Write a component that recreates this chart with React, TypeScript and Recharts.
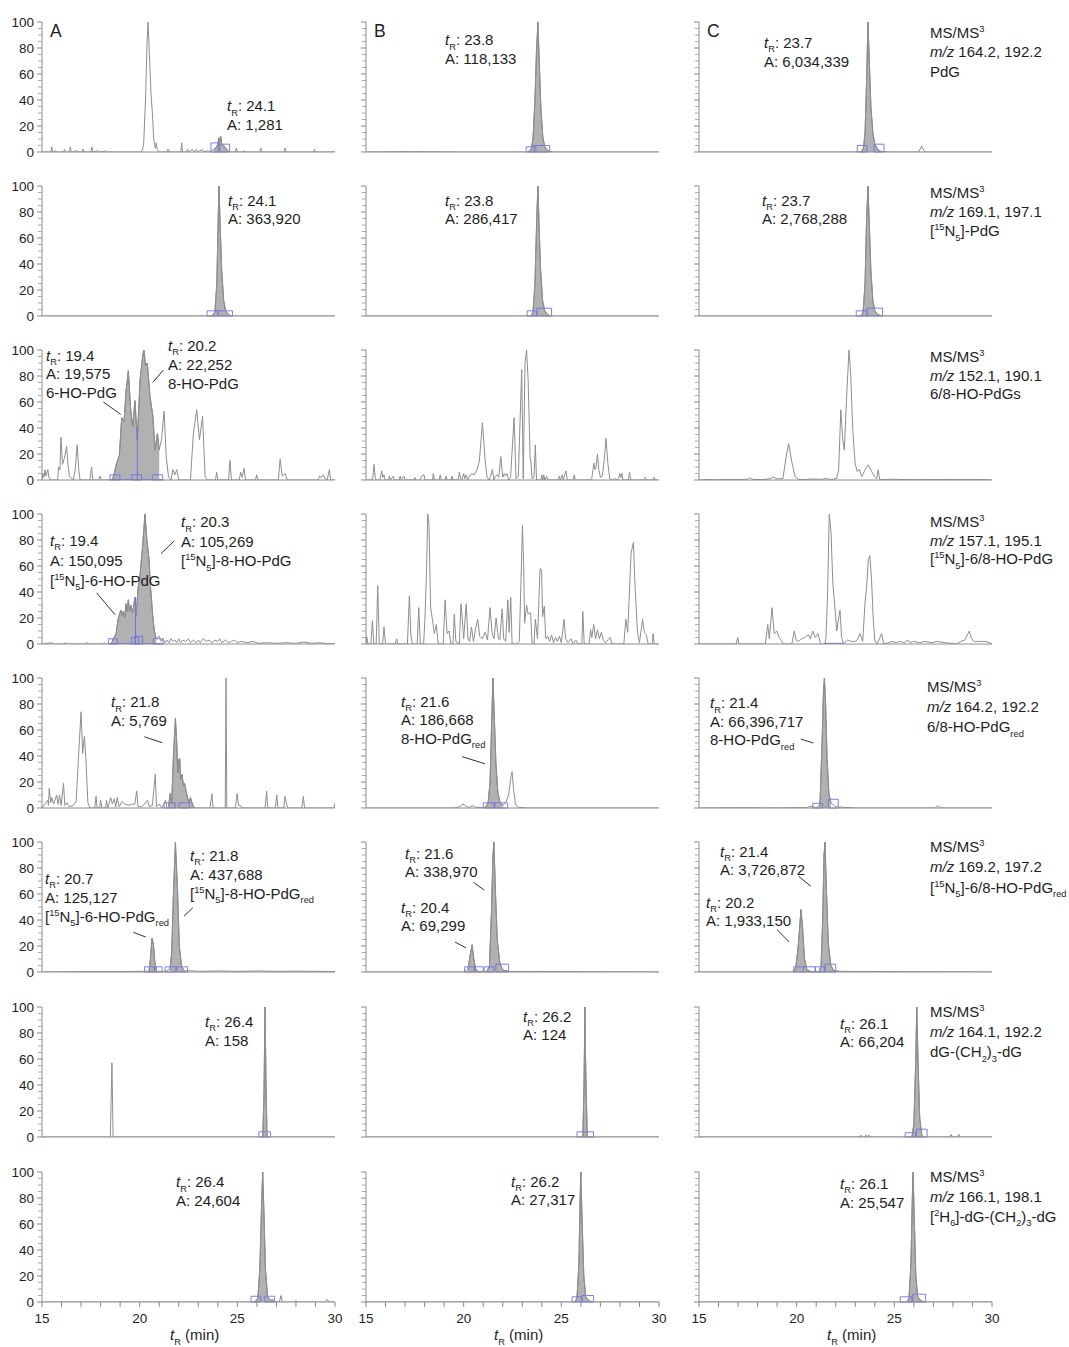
import React from "react";
import { ComposedChart, Line, Area, XAxis, YAxis, ReferenceArea, ReferenceLine } from "recharts";

type Pt = [number, number];
type Range = [number, number];
type Box = [number, number, number];
type Seg = [string, "n" | "i" | "sub" | "sup"];

// axes
const xTicks = [15, 16, 17, 18, 19, 20, 21, 22, 23, 24, 25, 26, 27, 28, 29, 30];
const xLabels = [15, 20, 25, 30];
const yTicks = [0, 5, 10, 15, 20, 25, 30, 35, 40, 45, 50, 55, 60, 65, 70, 75, 80, 85, 90, 95, 100];
const colLetters = ["A", "B", "C"];

// traces: [retention time (min), relative abundance (%)]
const a1: Pt[] = [[15, 0], [15.45, 0], [15.5, 4], [15.55, 0], [15.7, 1], [15.75, 0], [16.1, 0], [16.15, 2], [16.2, 0], [16.4, 0], [16.45, 4], [16.5, 0], [16.8, 1], [16.85, 0], [17.05, 0], [17.1, 2], [17.15, 0], [17.5, 0], [17.55, 4], [17.6, 0], [17.85, 1], [18.0, 0], [18.25, 1], [18.3, 0], [20.1, 0], [20.2, 5], [20.3, 40], [20.38, 85], [20.43, 100], [20.5, 75], [20.58, 45], [20.65, 30], [20.72, 10], [20.8, 3], [20.85, 7], [20.9, 2], [21.0, 0], [21.4, 0], [21.45, 2], [21.5, 0], [22.1, 0], [22.15, 7], [22.2, 0], [22.4, 0], [22.45, 2], [22.5, 0], [22.7, 2], [22.8, 0], [22.9, 2], [23.0, 0], [23.2, 2], [23.3, 0], [23.5, 1], [23.6, 0], [23.8, 2], [23.9, 3], [24.0, 6], [24.05, 11], [24.1, 8], [24.15, 12], [24.2, 6], [24.3, 5], [24.4, 3], [24.5, 1], [24.6, 0], [24.9, 0], [24.95, 3], [25.0, 0], [25.3, 0], [25.35, 1], [25.4, 0], [26.15, 0], [26.2, 3], [26.25, 0], [27.4, 0], [27.45, 3], [27.5, 0], [28.9, 0], [28.95, 2], [29.0, 0], [30, 0]];
const b1: Pt[] = [[15, 0], [17, 0.3], [20, 0], [23.3, 0], [23.45, 2], [23.55, 10], [23.65, 40], [23.72, 75], [23.8, 100], [23.87, 70], [23.95, 35], [24.05, 12], [24.15, 4], [24.3, 1], [24.5, 0], [30, 0]];
const c1: Pt[] = [[15, 0], [23.3, 0], [23.42, 3], [23.5, 15], [23.58, 55], [23.65, 100], [23.72, 70], [23.8, 35], [23.9, 15], [24.0, 6], [24.15, 2], [24.3, 0.5], [24.6, 0], [26.25, 0], [26.4, 4.5], [26.55, 0], [30, 0]];

const a2: Pt[] = [[15, 0], [23.7, 0], [23.85, 3], [23.95, 25], [24.02, 75], [24.06, 100], [24.12, 70], [24.2, 35], [24.3, 12], [24.4, 4], [24.55, 1], [24.7, 0], [30, 0]];
const b2: Pt[] = [[15, 0], [23.45, 0], [23.55, 3], [23.65, 25], [23.74, 75], [23.8, 100], [23.86, 70], [23.94, 35], [24.04, 12], [24.15, 4], [24.3, 1], [24.5, 0], [30, 0]];
const c2: Pt[] = [[15, 0], [23.3, 0], [23.4, 3], [23.5, 25], [23.58, 75], [23.65, 100], [23.72, 70], [23.8, 35], [23.9, 12], [24.0, 4], [24.15, 1], [24.4, 0], [30, 0]];

const a3: Pt[] = [[15, 0], [15.05, 5], [15.1, 2], [15.15, 8], [15.2, 3], [15.3, 8], [15.35, 2], [15.45, 0], [15.8, 0], [15.85, 10], [15.92, 8], [15.97, 33], [16.05, 12], [16.15, 17], [16.26, 26], [16.33, 12], [16.4, 3], [16.6, 0], [16.7, 8], [16.8, 27], [16.88, 8], [16.95, 0], [17.45, 0], [17.54, 10], [17.6, 0], [17.9, 0], [17.97, 3], [18.05, 0], [18.6, 0], [18.7, 5], [18.8, 12], [18.96, 19], [19.08, 48], [19.2, 45], [19.3, 68], [19.42, 84], [19.54, 54], [19.64, 41], [19.76, 61], [19.88, 31], [20.02, 77], [20.16, 96], [20.22, 100], [20.3, 88], [20.39, 90], [20.53, 64], [20.67, 50], [20.79, 23], [20.91, 36], [21.0, 23], [21.12, 31], [21.25, 53], [21.36, 18], [21.47, 3], [21.6, 0], [21.7, 8], [21.8, 4], [21.9, 8], [22.0, 0], [22.6, 0], [22.75, 36], [22.92, 54], [23.06, 31], [23.22, 49], [23.35, 3], [23.45, 0], [23.88, 0], [23.94, 6], [24.0, 0], [24.55, 0], [24.62, 15], [24.7, 0], [25.1, 0], [25.17, 6], [25.25, 2], [25.34, 9], [25.42, 0], [25.93, 0], [25.99, 4], [26.05, 0], [27.1, 0], [27.19, 16], [27.3, 3], [27.45, 5], [27.55, 0], [29.15, 0], [29.2, 3], [29.3, 2], [29.4, 4], [29.5, 1], [29.6, 0], [29.71, 8], [29.78, 0], [30, 0]];
const b3: Pt[] = [[15, 0], [15.3, 0], [15.36, 3], [15.41, 12], [15.47, 2], [15.52, 0], [15.72, 0], [15.8, 7], [15.86, 2], [15.92, 4], [15.98, 0], [16.15, 0], [16.2, 3], [16.25, 0], [16.4, 3], [16.45, 0], [16.7, 0], [16.75, 3], [16.8, 0], [16.95, 3], [17.0, 0], [17.45, 0], [17.5, 2], [17.55, 0], [17.75, 0], [17.85, 3], [17.97, 4], [18.02, 0], [18.4, 0], [18.45, 5], [18.5, 0], [18.75, 0], [18.8, 4], [18.85, 0], [19.05, 0], [19.1, 3], [19.15, 0], [19.35, 0], [19.4, 3], [19.45, 0], [19.72, 0], [19.78, 6], [19.84, 1], [19.9, 0], [20.0, 5], [20.05, 1], [20.12, 4], [20.2, 0], [20.3, 3], [20.4, 5], [20.55, 4], [20.68, 8], [20.8, 14], [20.96, 44], [21.1, 15], [21.2, 2], [21.3, 0], [21.4, 4], [21.47, 8], [21.55, 0], [21.63, 3], [21.73, 4], [21.8, 2], [21.9, 18], [22.0, 2], [22.08, 5], [22.14, 3], [22.22, 5], [22.3, 0], [22.4, 2], [22.58, 48], [22.68, 1], [22.8, 3], [22.97, 85], [23.05, 1], [23.14, 90], [23.22, 100], [23.3, 77], [23.4, 18], [23.45, 13], [23.5, 1], [23.6, 2], [23.67, 27], [23.73, 0], [23.95, 0], [24.0, 4], [24.05, 0], [24.1, 4], [24.15, 0], [24.25, 3], [24.3, 0], [24.85, 0], [24.9, 3], [24.95, 0], [25.05, 4], [25.1, 0], [25.17, 4], [25.24, 7], [25.3, 0], [25.6, 0], [25.66, 4], [25.72, 0], [26.45, 0], [26.56, 1], [26.62, 8], [26.67, 13], [26.72, 8], [26.78, 10], [26.85, 20], [26.92, 8], [27.0, 2], [27.1, 3], [27.2, 16], [27.29, 32], [27.38, 13], [27.48, 1], [27.6, 0], [27.75, 1], [27.85, 0], [27.93, 1], [27.99, 5], [28.05, 2], [28.1, 5], [28.15, 0], [28.43, 0], [28.49, 6], [28.55, 0], [29.25, 0], [29.3, 2], [29.35, 0], [29.7, 0], [29.75, 2], [29.8, 0], [30, 0]];
const c3: Pt[] = [[15, 0], [15.5, 0.4], [16, 0.2], [16.5, 0.5], [17, 0.3], [17.5, 0.6], [17.6, 1.8], [17.7, 0.6], [18.2, 0.3], [18.6, 0.8], [18.8, 2.3], [19.0, 0.8], [19.3, 1.2], [19.45, 17], [19.59, 28], [19.75, 14], [19.92, 2.6], [20.1, 0.5], [20.5, 0.4], [20.8, 0.8], [21.2, 0.5], [21.5, 1], [21.8, 0.4], [22.05, 1.3], [22.15, 7.8], [22.26, 54], [22.36, 31], [22.44, 23], [22.56, 65], [22.68, 100], [22.76, 83], [22.87, 39], [22.99, 13], [23.1, 6.5], [23.2, 8.3], [23.33, 2.6], [23.5, 7.8], [23.67, 11.6], [23.84, 6.5], [23.98, 2.6], [24.1, 1], [24.17, 7.8], [24.25, 0.5], [24.6, 0.4], [25, 0.6], [25.6, 0.3], [26.2, 0.5], [27, 0.3], [27.8, 0.5], [28.6, 0.3], [29.4, 0.4], [30, 0]];

const a4: Pt[] = [[15, 0], [15.5, 1], [15.6, 0], [16.1, 0], [16.2, 1], [16.3, 0], [17.2, 0], [17.3, 1], [17.4, 0], [18.1, 0], [18.2, 1], [18.3, 0], [18.5, 0], [18.6, 2], [18.65, 4], [18.79, 8], [18.91, 20], [19.03, 26], [19.1, 22], [19.16, 25], [19.23, 20], [19.3, 31], [19.36, 25], [19.42, 34], [19.48, 25], [19.55, 30], [19.64, 24], [19.76, 36], [19.82, 22], [19.92, 43], [20.02, 53], [20.16, 77], [20.27, 100], [20.36, 82], [20.48, 65], [20.56, 43], [20.67, 22], [20.75, 10], [20.85, 4], [21.0, 6], [21.1, 2], [21.2, 4], [21.3, 1], [21.4, 3], [21.5, 1], [21.6, 4], [21.7, 2], [21.8, 3], [21.9, 1], [22.0, 4], [22.1, 1], [22.2, 3], [22.35, 2], [22.5, 4], [22.6, 1], [22.75, 3], [22.9, 1], [23.0, 3], [23.1, 1], [23.25, 4], [23.4, 2], [23.55, 3], [23.7, 1], [23.85, 3], [24.0, 2], [24.1, 4], [24.2, 1], [24.4, 3], [24.55, 1], [24.7, 2], [24.85, 3], [25.0, 1], [25.2, 2], [25.5, 1], [25.8, 2], [26.1, 0.5], [26.5, 1], [27.0, 0.5], [27.5, 1], [28.0, 0.5], [28.4, 1.5], [28.8, 0.5], [29.2, 1], [29.6, 0.3], [30, 0]];
const b4: Pt[] = [[15, 0], [15.04, 5.6], [15.1, 0], [15.25, 0], [15.33, 18], [15.4, 0], [15.52, 0], [15.6, 45], [15.68, 0], [15.85, 0], [15.92, 13], [16.0, 0], [16.5, 0], [16.57, 4], [16.63, 0], [17.12, 0], [17.22, 37], [17.3, 6], [17.38, 0], [17.62, 0], [17.7, 28], [17.78, 0], [17.95, 0], [18.02, 20], [18.1, 57], [18.16, 100], [18.22, 93], [18.31, 28], [18.4, 19], [18.5, 8], [18.6, 15], [18.7, 0], [18.95, 0], [19.05, 34], [19.15, 8], [19.25, 10], [19.35, 0], [19.45, 0], [19.52, 23], [19.6, 2], [19.78, 0], [19.86, 31], [19.92, 21], [20.0, 4], [20.13, 31], [20.22, 4], [20.3, 2], [20.4, 13], [20.5, 2], [20.6, 11], [20.72, 19], [20.82, 6], [20.95, 4], [21.1, 9], [21.22, 3], [21.35, 28], [21.45, 9], [21.55, 4], [21.66, 20], [21.78, 4], [21.85, 3], [21.97, 27], [22.05, 4], [22.15, 2], [22.26, 34], [22.33, 9], [22.41, 36], [22.48, 0], [22.7, 0], [22.85, 2], [22.94, 52], [23.01, 91], [23.07, 62], [23.12, 16], [23.22, 30], [23.3, 23], [23.43, 24], [23.5, 1], [23.6, 0], [23.67, 19], [23.78, 4], [23.91, 58], [23.99, 57], [24.04, 21], [24.13, 29], [24.2, 4], [24.3, 6], [24.4, 2], [24.5, 7], [24.6, 1], [24.7, 5], [24.8, 2], [24.9, 6], [25.0, 1], [25.14, 19], [25.22, 4], [25.35, 1], [25.5, 4], [25.6, 0], [25.75, 3], [25.85, 0], [26.05, 0], [26.1, 25], [26.17, 0], [26.42, 0], [26.5, 11], [26.56, 5], [26.66, 15], [26.75, 4], [26.85, 11], [26.95, 4], [27.05, 9], [27.15, 3], [27.25, 1], [27.5, 5], [27.6, 0], [28.2, 0], [28.3, 19], [28.4, 9], [28.57, 70], [28.69, 78], [28.78, 42], [28.9, 9], [29.0, 1], [29.16, 19], [29.25, 9], [29.35, 7], [29.45, 0], [29.65, 0], [29.7, 8], [29.76, 0], [30, 0]];
const c4: Pt[] = [[15, 0], [16.9, 0], [16.98, 5], [17.05, 0], [18.4, 0], [18.52, 15], [18.6, 4], [18.74, 28], [18.85, 8], [18.98, 10], [19.1, 5], [19.2, 3], [19.32, 0], [19.75, 0], [19.88, 10], [19.97, 3], [20.1, 2], [20.25, 4], [20.4, 5], [20.6, 7], [20.7, 4], [20.82, 10], [20.95, 5], [21.1, 8], [21.22, 0], [21.45, 0], [21.5, 5], [21.58, 37], [21.67, 100], [21.76, 86], [21.85, 47], [21.97, 26], [22.05, 10], [22.12, 17], [22.22, 26], [22.3, 5], [22.4, 0], [22.6, 3], [22.8, 2], [23.0, 2], [23.1, 3], [23.24, 8], [23.38, 2], [23.5, 32], [23.58, 44], [23.67, 65], [23.75, 68], [23.84, 47], [23.92, 19], [24.0, 3], [24.12, 0], [24.35, 8], [24.45, 0], [24.7, 1], [24.9, 2], [25.1, 1], [25.3, 2], [25.5, 1], [25.7, 3], [25.8, 1], [26.0, 2], [26.3, 1], [26.55, 2], [26.9, 1], [27.2, 2], [27.6, 1], [28.2, 0], [28.4, 2], [28.6, 3], [28.84, 10], [28.95, 4], [29.1, 2], [29.3, 2], [29.55, 2], [29.7, 2], [30, 0]];

const a5: Pt[] = [[15, 0], [15.3, 6], [15.33, 2], [15.37, 15], [15.45, 4], [15.5, 8], [15.6, 3], [15.75, 10], [15.82, 3], [15.9, 10], [15.98, 2], [16.1, 19], [16.17, 2], [16.28, 4], [16.4, 1], [16.6, 2], [16.75, 5], [16.86, 37], [17.0, 74], [17.08, 42], [17.17, 55], [17.25, 37], [17.35, 4], [17.45, 0], [17.7, 0], [17.77, 9], [17.82, 0], [17.95, 0], [18.0, 6], [18.07, 0], [18.25, 0], [18.3, 6], [18.37, 0], [18.52, 8], [18.6, 3], [18.7, 7], [18.78, 1], [18.85, 8], [18.95, 1], [19.1, 5], [19.25, 3], [19.45, 2], [19.6, 3], [19.75, 3], [19.85, 13], [19.92, 1], [20.1, 1], [20.25, 3], [20.4, 6], [20.5, 1], [20.65, 2], [20.8, 26], [20.86, 1], [21.0, 3], [21.15, 0], [21.33, 6], [21.4, 0], [21.48, 1], [21.56, 11], [21.64, 4], [21.72, 37], [21.83, 69], [21.9, 50], [21.95, 27], [22.0, 37], [22.05, 38], [22.1, 22], [22.17, 26], [22.24, 17], [22.3, 19], [22.4, 11], [22.52, 4], [22.6, 8], [22.7, 3], [22.8, 0], [23.6, 0], [23.7, 11], [23.76, 0], [24.38, 0], [24.42, 100], [24.46, 0], [24.9, 0], [24.99, 11], [25.06, 2], [25.15, 2], [25.25, 0], [26.42, 0], [26.5, 13], [26.56, 0], [26.95, 0], [27.02, 10], [27.08, 0], [27.38, 0], [27.44, 9], [27.52, 3], [27.6, 0], [28.3, 0], [28.38, 9], [28.44, 0], [29.95, 0], [30, 4]];
const b5: Pt[] = [[15, 0], [19.5, 0], [19.8, 1], [19.97, 3], [20.15, 1], [20.3, 0.5], [20.45, 2], [20.6, 0.5], [21.1, 0.5], [21.25, 4], [21.35, 20], [21.43, 65], [21.5, 100], [21.57, 70], [21.65, 35], [21.75, 12], [21.85, 5], [22.0, 2], [22.15, 4], [22.3, 10], [22.42, 24], [22.48, 28], [22.55, 15], [22.65, 3], [22.8, 0.5], [23.2, 0], [30, 0]];
const c5: Pt[] = [[15, 0], [17.5, 0.3], [18.5, 0], [20.5, 0.3], [20.8, 1.5], [20.95, 0.3], [21.15, 1], [21.2, 6], [21.3, 50], [21.37, 89], [21.42, 100], [21.48, 81], [21.56, 37], [21.65, 11], [21.75, 4], [22.0, 1], [22.4, 0.5], [23, 0], [27.1, 0], [27.22, 2], [27.35, 0], [30, 0]];

const a6: Pt[] = [[15, 0], [17, 0.3], [19, 0.3], [20.0, 0.5], [20.48, 0.5], [20.55, 10], [20.63, 26], [20.7, 22], [20.78, 7], [20.88, 0.5], [21.3, 0.5], [21.55, 2], [21.64, 15], [21.72, 56], [21.83, 100], [21.93, 66], [22.03, 20], [22.15, 4], [22.3, 0.8], [22.6, 1], [23, 0.5], [24, 0.8], [25, 0.5], [26, 0.8], [27, 0.5], [28, 0.6], [29, 0.5], [30, 0.3]];
const b6: Pt[] = [[15, 0], [20.0, 0], [20.22, 2], [20.32, 12], [20.43, 21], [20.52, 10], [20.62, 2], [20.75, 0.5], [21.2, 0.5], [21.32, 5], [21.42, 45], [21.5, 90], [21.55, 100], [21.62, 65], [21.72, 25], [21.85, 7], [22.0, 1.5], [22.3, 0.5], [30, 0]];
const c6: Pt[] = [[15, 0], [19.8, 0], [19.95, 3], [20.08, 20], [20.22, 48], [20.3, 35], [20.4, 10], [20.52, 2], [20.7, 0.5], [21.15, 0.5], [21.25, 5], [21.33, 40], [21.4, 90], [21.45, 100], [21.52, 65], [21.62, 22], [21.75, 5], [21.9, 1], [22.2, 0.5], [30, 0]];

const a7: Pt[] = [[15, 0], [18.5, 0], [18.58, 57], [18.64, 0], [26.3, 0], [26.36, 30], [26.42, 100], [26.47, 40], [26.52, 0], [30, 0]];
const b7: Pt[] = [[15, 0], [26.1, 0], [26.16, 40], [26.21, 100], [26.24, 60], [26.28, 30], [26.33, 0], [30, 0]];
const c7: Pt[] = [[15, 0], [23.25, 0], [23.3, 1.5], [23.35, 0], [23.5, 0], [23.55, 1.5], [23.6, 0], [23.7, 1.5], [23.75, 0], [25.9, 0], [26.0, 10], [26.08, 50], [26.15, 100], [26.22, 55], [26.3, 15], [26.4, 2], [26.5, 0], [27.85, 0], [27.9, 2], [27.95, 0], [28.25, 0], [28.3, 2], [28.35, 0], [30, 0]];

const a8: Pt[] = [[15, 0], [25.9, 0], [26.05, 3], [26.15, 25], [26.24, 75], [26.3, 100], [26.36, 70], [26.44, 25], [26.55, 4], [26.7, 1], [26.8, 2], [26.9, 0.5], [27.15, 0], [27.24, 5], [27.3, 0], [27.9, 0], [28.0, 1], [28.1, 0], [29.5, 0], [29.6, 2], [29.7, 0], [30, 0]];
const b8: Pt[] = [[15, 0], [25.7, 0], [25.8, 3], [25.9, 30], [25.96, 80], [26.0, 100], [26.06, 65], [26.15, 20], [26.25, 4], [26.4, 1], [26.6, 0], [30, 0]];
const c8: Pt[] = [[15, 0], [25.65, 0], [25.75, 3], [25.85, 30], [25.92, 80], [25.96, 100], [26.02, 65], [26.1, 20], [26.2, 4], [26.35, 1], [26.55, 0], [30, 0]];

interface PanelSpec {
  col: number;
  row: number;
  trace: Pt[];
  fills?: Range[];
  boxes?: Box[];
  leaders?: [Pt, Pt][];
  blue?: [Pt, Pt][];
}

const panels: PanelSpec[] = [
  { col: 0, row: 0, trace: a1, fills: [[23.8, 24.6]], boxes: [[23.65, 24.1, 7], [24.05, 24.6, 6]] },
  { col: 1, row: 0, trace: b1, fills: [[23.3, 24.5]], boxes: [[23.2, 23.7, 4], [23.6, 24.4, 5]] },
  { col: 2, row: 0, trace: c1, fills: [[23.3, 24.6]], boxes: [[23.1, 23.6, 5], [23.96, 24.47, 6]] },
  { col: 0, row: 1, trace: a2, fills: [[23.7, 24.7]], boxes: [[23.45, 24.0, 4], [24.0, 24.75, 4]] },
  { col: 1, row: 1, trace: b2, fills: [[23.45, 24.5]], boxes: [[23.25, 23.75, 4], [23.75, 24.5, 6]] },
  { col: 2, row: 1, trace: c2, fills: [[23.3, 24.4]], boxes: [[23.05, 23.6, 4], [23.6, 24.4, 6]] },
  {
    col: 0, row: 2, trace: a3, fills: [[18.6, 21.0]],
    boxes: [[18.48, 18.99, 4], [19.59, 20.1, 4], [20.65, 21.18, 4]],
    leaders: [[[18.14, 60], [19.03, 50.4]], [[21.21, 84.5], [20.67, 75]]],
    blue: [[[19.88, 0], [19.88, 41]], [[18.5, 0.3], [21.2, 0.3]]],
  },
  { col: 1, row: 2, trace: b3 },
  { col: 2, row: 2, trace: c3 },
  {
    col: 0, row: 3, trace: a4, fills: [[18.5, 20.85]],
    boxes: [[18.4, 18.85, 4], [19.58, 19.95, 5], [19.75, 20.15, 6], [20.7, 21.2, 4]],
    leaders: [[[17.8, 39.3], [18.74, 22.5]], [[21.77, 79.3], [21.09, 69.5]]],
    blue: [[[19.79, 0], [19.79, 36]], [[18.4, 0.3], [21.2, 0.3]]],
  },
  { col: 1, row: 3, trace: b4 },
  { col: 2, row: 3, trace: c4, blue: [[[21.4, 0.5], [22.4, 0.5]]] },
  {
    col: 0, row: 4, trace: a5, fills: [[21.48, 22.8]],
    boxes: [[21.25, 21.81, 4], [22.02, 22.55, 4]],
    leaders: [[[20.24, 54.8], [21.16, 50.2]]],
  },
  {
    col: 1, row: 4, trace: b5, fills: [[21.1, 22.0]],
    boxes: [[21.0, 21.6, 4], [21.55, 22.25, 4]],
    leaders: [[[19.92, 39.5], [21.09, 34]]],
  },
  {
    col: 2, row: 4, trace: c5, fills: [[21.15, 21.75]],
    boxes: [[20.82, 21.33, 3.6], [21.62, 22.13, 6.7]],
    leaders: [[[20.21, 53], [20.85, 50]]],
  },
  {
    col: 0, row: 5, trace: a6, fills: [[20.48, 20.88], [21.55, 22.3]],
    boxes: [[20.25, 20.75, 4], [20.75, 21.15, 4], [21.3, 21.85, 4], [21.9, 22.45, 4]],
    leaders: [[[19.68, 30.5], [20.31, 26.9]], [[22.72, 49.4], [22.27, 42.9]]],
  },
  {
    col: 1, row: 5, trace: b6, fills: [[20.22, 20.75], [21.2, 22.3]],
    boxes: [[20.05, 20.55, 4], [20.55, 21.0, 4], [21.05, 21.55, 4], [21.65, 22.3, 6]],
    leaders: [[[19.56, 23], [20.12, 18.6]], [[20.5, 69], [21.05, 63]]],
  },
  {
    col: 2, row: 5, trace: c6, fills: [[19.8, 20.7], [21.15, 22.2]],
    boxes: [[19.85, 20.35, 4], [20.35, 20.95, 4], [20.95, 21.45, 4], [21.45, 22.0, 6]],
    leaders: [[[18.99, 32.6], [19.61, 23.3]], [[20.1, 73.6], [20.72, 66]]],
  },
  { col: 0, row: 6, trace: a7, fills: [[26.3, 26.52]], boxes: [[26.1, 26.7, 4]] },
  { col: 1, row: 6, trace: b7, fills: [[26.1, 26.33]], boxes: [[25.8, 26.65, 4]] },
  { col: 2, row: 6, trace: c7, fills: [[25.9, 26.5]], boxes: [[25.55, 26.1, 3.3], [26.13, 26.68, 6]] },
  { col: 0, row: 7, trace: a8, fills: [[25.9, 26.9]], boxes: [[25.7, 26.2, 4.4], [26.4, 26.9, 4.4]] },
  { col: 1, row: 7, trace: b8, fills: [[25.7, 26.6]], boxes: [[25.55, 26.05, 4], [26.05, 26.65, 5]] },
  { col: 2, row: 7, trace: c8, fills: [[25.65, 26.55]], boxes: [[25.3, 25.9, 4], [25.95, 26.6, 6]] },
];

// annotation text
const tR = (v: string): Seg[] => [["t", "i"], ["R", "sub"], [": " + v, "n"]];
const area = (v: string): Seg[] => [["A: " + v, "n"]];
const ms: Seg[] = [["MS/MS", "n"], ["3", "sup"]];
const mz = (v: string): Seg[] => [["m/z", "i"], [" " + v, "n"]];
const plain = (v: string): Seg[] => [[v, "n"]];
const red = (v: string): Seg[] => [[v, "n"], ["red", "sub"]];
const n15 = (v: string, r = false): Seg[] => {
  const s: Seg[] = [["[", "n"], ["15", "sup"], ["N", "n"], ["5", "sub"], ["]" + v, "n"]];
  return r ? [...s, ["red", "sub"]] : s;
};
const dimer: Seg[] = [["dG-(CH", "n"], ["2", "sub"], [")", "n"], ["3", "sub"], ["-dG", "n"]];
const d6dimer: Seg[] = [["[", "n"], ["2", "sup"], ["H", "n"], ["6", "sub"], ["]-dG-(CH", "n"], ["2", "sub"], [")", "n"], ["3", "sub"], ["-dG", "n"]];

interface Note { x: number; y: number; lines: Seg[][]; gap?: number }

const notes: Note[] = [
  { x: 227, y: 111, lines: [tR("24.1"), area("1,281")] },
  { x: 445, y: 45, lines: [tR("23.8"), area("118,133")] },
  { x: 764, y: 47.5, lines: [tR("23.7"), area("6,034,339")], gap: 19 },
  { x: 930, y: 38, lines: [ms, mz("164.2, 192.2"), plain("PdG")], gap: 19.3 },

  { x: 228, y: 205.5, lines: [tR("24.1"), area("363,920")] },
  { x: 445, y: 205.5, lines: [tR("23.8"), area("286,417")] },
  { x: 762, y: 205.5, lines: [tR("23.7"), area("2,768,288")] },
  { x: 930, y: 198, lines: [ms, mz("169.1, 197.1"), n15("-PdG")], gap: 19 },

  { x: 46, y: 360.5, lines: [tR("19.4"), area("19,575"), plain("6-HO-PdG")] },
  { x: 168, y: 350.5, lines: [tR("20.2"), area("22,252"), plain("8-HO-PdG")], gap: 19 },
  { x: 930, y: 362, lines: [ms, mz("152.1, 190.1"), plain("6/8-HO-PdGs")] },

  { x: 50, y: 545.5, lines: [tR("19.4"), area("150,095"), n15("-6-HO-PdG")], gap: 20 },
  { x: 181, y: 527, lines: [tR("20.3"), area("105,269"), n15("-8-HO-PdG")], gap: 19.5 },
  { x: 930, y: 527, lines: [ms, mz("157.1, 195.1"), n15("-6/8-HO-PdG")] },

  { x: 111, y: 707, lines: [tR("21.8"), area("5,769")], gap: 19.4 },
  { x: 401, y: 706.5, lines: [tR("21.6"), area("186,668"), red("8-HO-PdG")] },
  { x: 710, y: 708, lines: [tR("21.4"), area("66,396,717"), red("8-HO-PdG")], gap: 18.7 },
  { x: 927, y: 692, lines: [ms, mz("164.2, 192.2"), red("6/8-HO-PdG")], gap: 20 },

  { x: 45, y: 883.5, lines: [tR("20.7"), area("125,127"), n15("-6-HO-PdG", true)], gap: 19.2 },
  { x: 190, y: 860.5, lines: [tR("21.8"), area("437,688"), n15("-8-HO-PdG", true)], gap: 19.2 },
  { x: 405, y: 858.5, lines: [tR("21.6"), area("338,970")] },
  { x: 401, y: 912.5, lines: [tR("20.4"), area("69,299")] },
  { x: 720, y: 856.5, lines: [tR("21.4"), area("3,726,872")] },
  { x: 706, y: 907.5, lines: [tR("20.2"), area("1,933,150")] },
  { x: 930, y: 851.5, lines: [ms, mz("169.2, 197.2"), n15("-6/8-HO-PdG", true)], gap: 20.5 },

  { x: 205, y: 1026.5, lines: [tR("26.4"), area("158")], gap: 19 },
  { x: 523, y: 1021.5, lines: [tR("26.2"), area("124")] },
  { x: 840, y: 1028.5, lines: [tR("26.1"), area("66,204")] },
  { x: 930, y: 1017, lines: [ms, mz("164.1, 192.2"), dimer], gap: 20 },

  { x: 176, y: 1187, lines: [tR("26.4"), area("24,604")] },
  { x: 511, y: 1186.5, lines: [tR("26.2"), area("27,317")] },
  { x: 840, y: 1188.5, lines: [tR("26.1"), area("25,547")], gap: 19 },
  { x: 930, y: 1181.5, lines: [ms, mz("166.1, 198.1"), d6dimer], gap: 20 },
];

// layout
const COL_X = [42, 366, 699];
const ROW_TOP = [22, 186, 350, 514, 678, 842, 1007, 1172];
const PLOT_W = 293;
const PLOT_H = 130;
const Y_W = 40;
const PAD = 8;
const RIGHT = 14;
const FONT = "'Liberation Sans', Arial, Helvetica, sans-serif";
const INK = "#1e1e1e";
const AXIS = "#8c8c8c";
const BLUE = "#7171ee";

function YTick({ x, y, value, showLabel }: { x: number; y: number; value: number; showLabel: boolean }) {
  const major = value % 20 === 0;
  return (
    <g>
      <line x1={x - (major ? 5 : 4)} x2={x} y1={y} y2={y} stroke={major ? "#888" : "#aaa"} strokeWidth={1} />
      {showLabel && major && (
        <text x={x - 8} y={y} dy={4.7} textAnchor="end" fontSize={13.5} fontFamily={FONT} fill={INK}>
          {value}
        </text>
      )}
    </g>
  );
}

function XTick({ x, y, value }: { x: number; y: number; value: number }) {
  return (
    <g>
      <line x1={x} x2={x} y1={y} y2={y + 5} stroke="#888" strokeWidth={1} />
      {xLabels.includes(value) && (
        <text x={x} y={y + 21} textAnchor="middle" fontSize={13.5} fontFamily={FONT} fill={INK}>
          {value}
        </text>
      )}
    </g>
  );
}

function Panel({ spec }: { spec: PanelSpec }) {
  const last = spec.row === ROW_TOP.length - 1;
  const axisH = last ? 30 : 12;
  const line = spec.trace.map(([t, v]) => ({ t, v }));
  return (
    <div style={{ position: "absolute", left: COL_X[spec.col] - Y_W, top: ROW_TOP[spec.row] - PAD }}>
      <ComposedChart
        width={Y_W + PLOT_W + RIGHT}
        height={PAD + PLOT_H + axisH}
        margin={{ top: PAD, right: RIGHT, bottom: 0, left: 0 }}
      >
        <XAxis
          type="number"
          dataKey="t"
          domain={[15, 30]}
          ticks={xTicks}
          interval={0}
          allowDataOverflow
          height={axisH}
          tickSize={0}
          tickMargin={0}
          tickLine={false}
          stroke={AXIS}
          tick={last ? (p: any) => <XTick x={p.x} y={p.y} value={p.payload.value} /> : false}
        />
        <YAxis
          type="number"
          domain={[0, 100]}
          ticks={yTicks}
          interval={0}
          allowDataOverflow
          width={Y_W}
          tickSize={0}
          tickMargin={0}
          tickLine={false}
          stroke={AXIS}
          tick={(p: any) => <YTick x={p.x} y={p.y} value={p.payload.value} showLabel={spec.col === 0} />}
        />
        <Line
          data={line}
          dataKey="v"
          type="linear"
          dot={false}
          activeDot={false}
          stroke="#8e8e8e"
          strokeWidth={1}
          isAnimationActive={false}
        />
        {(spec.fills ?? []).map(([a, b], i) => (
          <Area
            key={"f" + i}
            data={line.filter((d) => d.t >= a && d.t <= b)}
            dataKey="v"
            type="linear"
            fill="#b1b1b1"
            fillOpacity={1}
            stroke="#6e6e6e"
            strokeWidth={0.8}
            dot={false}
            activeDot={false}
            isAnimationActive={false}
          />
        ))}
        {(spec.blue ?? []).map(([p, q], i) => (
          <ReferenceLine
            key={"bl" + i}
            segment={[{ x: p[0], y: p[1] }, { x: q[0], y: q[1] }]}
            stroke={BLUE}
            strokeWidth={1}
          />
        ))}
        {(spec.boxes ?? []).map(([a, b, h], i) => (
          <ReferenceArea
            key={"b" + i}
            x1={a}
            x2={b}
            y1={0}
            y2={h}
            fill="none"
            fillOpacity={0}
            stroke={BLUE}
            strokeWidth={1}
            strokeOpacity={0.9}
          />
        ))}
        {(spec.leaders ?? []).map(([p, q], i) => (
          <ReferenceLine
            key={"l" + i}
            segment={[{ x: p[0], y: p[1] }, { x: q[0], y: q[1] }]}
            stroke="#333"
            strokeWidth={1}
          />
        ))}
      </ComposedChart>
    </div>
  );
}

function Rich({ x, y, segs, size = 15 }: { x: number; y: number; segs: Seg[]; size?: number }) {
  let shift = 0;
  const parts = segs.map(([s, k], i) => {
    const small = k === "sub" || k === "sup";
    const target = k === "sub" ? size * 0.3 : k === "sup" ? -size * 0.38 : 0;
    const dy = target - shift;
    shift = target;
    return (
      <tspan key={i} dy={dy} fontSize={small ? size * 0.62 : size} fontStyle={k === "i" ? "italic" : "normal"}>
        {s}
      </tspan>
    );
  });
  return (
    <text x={x} y={y} fontSize={size} fontFamily={FONT} fill={INK}>
      {parts}
    </text>
  );
}

export default function App() {
  return (
    <div style={{ position: "absolute", left: 0, top: 0, width: 1069, height: 1347, background: "#fff" }}>
      {panels.map((p, i) => (
        <Panel key={i} spec={p} />
      ))}
      <svg width={1069} height={1347} style={{ position: "absolute", left: 0, top: 0, pointerEvents: "none" }}>
        {colLetters.map((c, i) => (
          <text key={c} x={COL_X[i] + 8} y={37} fontSize={17.5} fontFamily={FONT} fill={INK}>
            {c}
          </text>
        ))}
        {notes.map((n, i) =>
          n.lines.map((l, j) => <Rich key={i + "-" + j} x={n.x} y={n.y + j * (n.gap ?? 18.5)} segs={l} />)
        )}
        {COL_X.map((cx, i) => (
          <Rich key={"xl" + i} x={cx + 128} y={1340} segs={[["t", "i"], ["R", "sub"], [" (min)", "n"]]} />
        ))}
      </svg>
    </div>
  );
}
